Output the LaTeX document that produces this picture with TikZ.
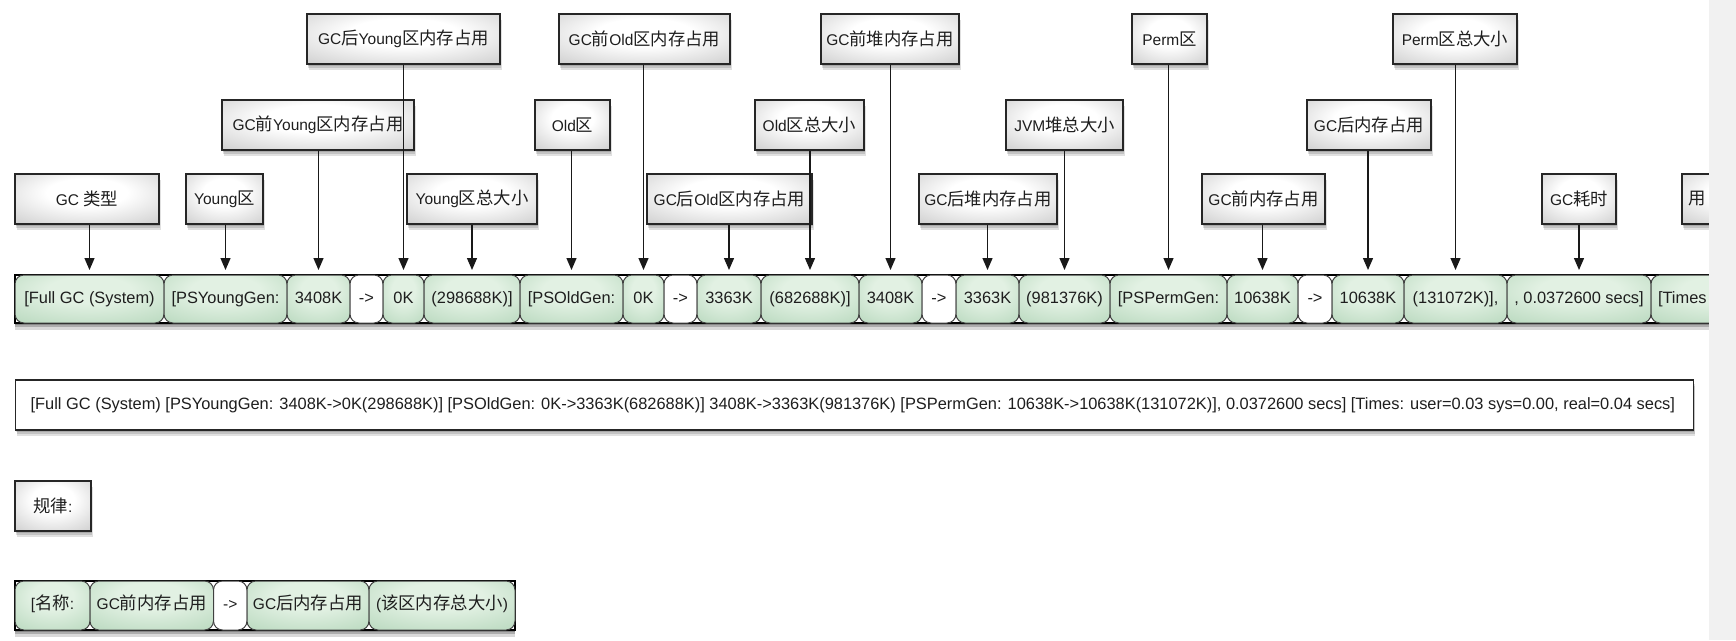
\documentclass[tikz,border=0pt]{standalone}
\usepackage{fontspec}
\setmainfont{Liberation Sans}
\newfontfamily\cjk{Noto Sans CJK SC}[Scale=1.12]
\newcommand{\zh}[1]{{\cjk #1}}
\newcommand{\lblfont}{\fontsize{15.5}{18}\selectfont}
\newcommand{\segfont}{\fontsize{16.4}{19}\selectfont}
\usetikzlibrary{arrows.meta,shadows}
\definecolor{segedge}{RGB}{170,208,177}
\definecolor{segmid}{RGB}{226,241,227}
\definecolor{boxedge}{RGB}{150,150,150}
\definecolor{boxmid}{RGB}{200,200,200}
\definecolor{inkc}{RGB}{30,30,30}
\definecolor{bandgray}{RGB}{241,241,241}
\pgfdeclareradialshading{lblshade}{\pgfpoint{0bp}{8bp}}{color(0bp)=(white); color(14bp)=(white); color(42bp)=(boxmid); color(60bp)=(boxedge); color(75bp)=(boxedge)}
\pgfdeclareradialshading{segshade}{\pgfpoint{0bp}{12bp}}{color(0bp)=(segmid); color(14bp)=(segmid); color(50bp)=(segedge); color(75bp)=(segedge!85!black)}
\tikzset{
  softshadow/.style={general shadow={fill=black,opacity=.13,shadow yshift=-2pt,shadow xshift=.5pt},
                     general shadow={fill=black,opacity=.13,shadow yshift=-4pt,shadow xshift=1pt},
                     general shadow={fill=black,opacity=.12,shadow yshift=-6pt,shadow xshift=1.5pt}},
  lbl/.style={draw=black!85, line width=1.4pt, shading=lblshade, softshadow, minimum height=50pt,
              inner sep=0pt, text=inkc, font=\lblfont},
  segbase/.style={draw=black!75, line width=1pt, rounded corners=9pt, minimum height=48pt,
              inner sep=0pt, text=inkc, font=\segfont, text height=11.5pt, text depth=3.5pt},
  seg/.style={segbase, shading=segshade},
  wseg/.style={segbase, fill=white},
  bseg/.style={seg, minimum height=49pt, font=\lblfont, text height=12pt, text depth=3.5pt},
  bwseg/.style={wseg, minimum height=49pt, font=\lblfont, text height=12pt, text depth=3.5pt},
  barframe/.style={draw=black, line width=1.3pt, fill=white,
                   general shadow={fill=black,opacity=.22,shadow yshift=-2pt},
                   general shadow={fill=black,opacity=.2,shadow yshift=-4pt},
                   general shadow={fill=black,opacity=.15,shadow yshift=-7pt}},
  logbox/.style={draw=black!85, line width=1.3pt, fill=white, softshadow, minimum height=50pt,
                 inner xsep=15pt, inner ysep=0pt, text=inkc, font=\segfont},
  arr/.style={line width=1.3pt, draw=black!90, -{Triangle[width=10pt,length=12pt]}, shorten >=4.5pt},
}
\begin{document}
\begin{tikzpicture}[x=1pt,y=-1pt]
\useasboundingbox (0,0) rectangle (1736,640);
\fill[white] (0,0) rectangle (1736,640);

% ---------- top bar ----------
\path[barframe] (15,275) rectangle (1790,323);
\node[seg,  minimum width=149pt] (s1)  at (89.5,299)  {[Full GC (System)};
\node[seg,  minimum width=123pt] (s2)  at (225.5,299) {[PSYoungGen:};
\node[seg,  minimum width=63pt]  (s3)  at (318.5,299) {3408K};
\node[wseg, minimum width=33pt]  (s4)  at (366.5,299) {->};
\node[seg,  minimum width=41pt]  (s5)  at (403.5,299) {0K};
\node[seg,  minimum width=96pt]  (s6)  at (472,299)   {(298688K)]};
\node[seg,  minimum width=103pt] (s7)  at (571.5,299) {[PSOldGen:};
\node[seg,  minimum width=41pt]  (s8)  at (643.5,299) {0K};
\node[wseg, minimum width=33pt]  (s9)  at (680.5,299) {->};
\node[seg,  minimum width=64pt]  (s10) at (729,299)   {3363K};
\node[seg,  minimum width=98pt]  (s11) at (810,299)   {(682688K)]};
\node[seg,  minimum width=63pt]  (s12) at (890.5,299) {3408K};
\node[wseg, minimum width=34pt]  (s13) at (939,299)   {->};
\node[seg,  minimum width=63pt]  (s14) at (987.5,299) {3363K};
\node[seg,  minimum width=91pt]  (s15) at (1064.5,299) {(981376K)};
\node[seg,  minimum width=117pt] (s16) at (1168.5,299) {[PSPermGen:};
\node[seg,  minimum width=71pt]  (s17) at (1262.5,299) {10638K};
\node[wseg, minimum width=34pt]  (s18) at (1315,299)  {->};
\node[seg,  minimum width=72pt]  (s19) at (1368,299)  {10638K};
\node[seg,  minimum width=103pt] (s20) at (1455.5,299) {(131072K)],};
\node[seg,  minimum width=144pt] (s21) at (1579,299)  {, 0.0372600 secs]};
\node[seg,  minimum width=139pt, text width=125pt, align=left] (s22) at (1720.5,299) {[Times};

% ---------- labels ----------
\node[lbl, minimum width=144pt] (l1)  at (87,199)     {GC \zh{类型}};
\node[lbl, minimum width=77pt]  (l2)  at (224.5,199)  {Young\zh{区}};
\node[lbl, minimum width=192pt] (l3)  at (318,125)    {GC\zh{前}Young\zh{区内存占用}};
\node[lbl, minimum width=193pt] (l4)  at (403.5,39)   {GC\zh{后}Young\zh{区内存占用}};
\node[lbl, minimum width=130pt] (l5)  at (472,199)    {Young\zh{区总大小}};
\node[lbl, minimum width=75pt]  (l6)  at (572.5,125)  {Old\zh{区}};
\node[lbl, minimum width=171pt] (l7)  at (644.5,39)   {GC\zh{前}Old\zh{区内存占用}};
\node[lbl, minimum width=165pt] (l8)  at (729.5,199)  {GC\zh{后}Old\zh{区内存占用}};
\node[lbl, minimum width=109pt] (l9)  at (809.5,125)  {Old\zh{区总大小}};
\node[lbl, minimum width=138pt] (l10) at (890,39)     {GC\zh{前堆内存占用}};
\node[lbl, minimum width=138pt] (l11) at (988,199)    {GC\zh{后堆内存占用}};
\node[lbl, minimum width=117pt] (l12) at (1064.5,125) {JVM\zh{堆总大小}};
\node[lbl, minimum width=75pt]  (l13) at (1169.5,39)  {Perm\zh{区}};
\node[lbl, minimum width=123pt] (l14) at (1263.5,199) {GC\zh{前内存占用}};
\node[lbl, minimum width=124pt] (l15) at (1369,125)   {GC\zh{后内存占用}};
\node[lbl, minimum width=124pt] (l16) at (1455,39)    {Perm\zh{区总大小}};
\node[lbl, minimum width=74pt]  (l17) at (1579,199)   {GC\zh{耗时}};
\node[lbl, minimum width=118pt, text width=106pt, align=left] (l18) at (1741,199) {\zh{用}};

% ---------- arrows ----------
\foreach \l/\s in {l1/s1,l2/s2,l3/s3,l4/s5,l5/s6,l6/s7,l7/s8,l8/s10,l9/s11,l10/s12,
                   l11/s14,l12/s15,l13/s16,l14/s17,l15/s19,l16/s20,l17/s21}
  \draw[arr] (\s.north |- \l.south) -- (\s.north);

% ---------- full log line ----------
\node[logbox, anchor=west, minimum width=1678pt] (log) at (15,405)
  {\makebox[1648pt][l]{[Full GC (System) [PSYoungGen: 3408K->0K(298688K)] [PSOldGen: 0K->3363K(682688K)] 3408K->3363K(981376K) [PSPermGen: 10638K->10638K(131072K)], 0.0372600 secs] [Times: user=0.03 sys=0.00, real=0.04 secs]}};

% ---------- rule ----------
\node[lbl, minimum width=76pt] (rule) at (53,506) {\zh{规律}:\hspace{8pt}};

% ---------- bottom bar ----------
\path[barframe] (15,581) rectangle (515,630);
\node[bseg,  minimum width=75pt]    (b1) at (52.5,605.5)   {[\zh{名称}:};
\node[bseg,  minimum width=123.5pt] (b2) at (151.75,605.5) {GC\zh{前内存占用}};
\node[bwseg, minimum width=33.5pt]  (b3) at (230.25,605.5) {->};
\node[bseg,  minimum width=122pt]   (b4) at (308,605.5)    {GC\zh{后内存占用}};
\node[bseg,  minimum width=146pt]   (b5) at (442,605.5)    {(\zh{该区内存总大小})};

% ---------- right grey band ----------
\fill[bandgray] (1709,0) rectangle (1736,640);
\end{tikzpicture}
\end{document}
